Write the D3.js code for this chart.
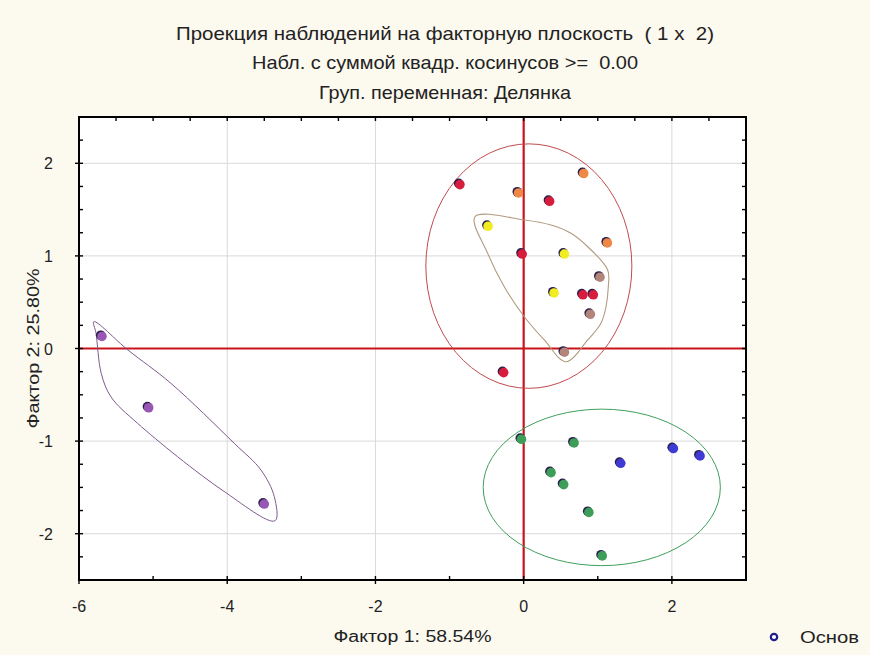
<!DOCTYPE html>
<html><head><meta charset="utf-8">
<script src="https://cdn.jsdelivr.net/npm/d3@7/dist/d3.min.js"></script>
<style>body{margin:0;background:#fcf9ef;} svg{display:block;} text{white-space:pre;}</style>
</head><body>
<svg id="c" width="870" height="655"></svg>
<script>
// ---- data ----
const titleLines = ["Проекция наблюдений на факторную плоскость  ( 1 x  2)",
  "Набл. с суммой квадр. косинусов >=  0.00",
  "Груп. переменная: Делянка"];
const xLabel = "Фактор 1: 58.54%";
const yLabel = "Фактор 2: 25.80%";
const legendLabel = "Основ";
const xTickLabels = [-6, -4, -2, 0, 2];
const yTickLabels = [-2, -1, 0, 1, 2];

const groupNames = ["red", "orange", "yellow", "brown", "green", "blue", "purple"];
const groupColors = ["#d81c3e", "#ee8845", "#f2ec22", "#b3857a", "#3c9e58", "#3e3ad4", "#9a56b4"];
const redX = [-0.86, 0.35, -0.02, 0.80, 0.94, -0.27];
const redY = [1.77, 1.59, 1.02, 0.58, 0.58, -0.26];
const orangeX = [-0.07, 0.81, 1.13];
const orangeY = [1.68, 1.89, 1.14];
const yellowX = [-0.48, 0.55, 0.41];
const yellowY = [1.32, 1.02, 0.60];
const brownX = [1.03, 0.90, 0.55];
const brownY = [0.77, 0.37, -0.04];
const greenX = [-0.03, 0.68, 0.37, 0.54, 0.88, 1.06];
const greenY = [-0.98, -1.02, -1.34, -1.47, -1.77, -2.24];
const blueX = [2.02, 2.38, 1.31];
const blueY = [-1.08, -1.16, -1.24];
const purpleX = [-5.69, -5.06, -3.50];
const purpleY = [0.13, -0.64, -1.68];

// enclosing outlines (data units)
const ellipseRed = {cx: 0.07, cy: 0.89, rx: 1.39, ry: 1.32};
const ellipseGreen = {cx: 1.054, cy: -1.50, rx: 1.60, ry: 0.845};
const hullBrownX = [-0.657, 0.008, 0.368, 0.638, 0.864, 1.134, 1.142, 1.111, 1.043, 0.864, 0.571, 0.278, 0.008, -0.262, -0.486];
const hullBrownY = [1.423, 1.388, 1.334, 1.244, 1.099, 0.848, 0.667, 0.451, 0.272, 0.092, -0.143, 0.092, 0.343, 0.667, 1.028];
const hullPurpleX = [-5.80, -5.34, -4.76, -3.905, -3.545, -3.365, -3.355, -4.07, -5.21, -5.57, -5.70, -5.77];
const hullPurpleY = [0.29, -0.016, -0.376, -1.024, -1.312, -1.60, -1.86, -1.528, -0.808, -0.52, -0.268, 0.164];

// ---- drawing ----
const svg = d3.select("#c");
const L = 79, R = 746, T = 117, B = 580;
const x = d3.scaleLinear().domain([-6, 3]).range([L, R]);
const y = d3.scaleLinear().domain([-2.5, 2.5]).range([B, T]);
const font = "'Liberation Sans', Arial, sans-serif";

svg.append("rect").attr("width", 870).attr("height", 655).attr("fill", "#fcf9ef");
svg.append("rect").attr("x", L).attr("y", T).attr("width", R - L).attr("height", B - T).attr("fill", "#fff");

// titles
const titleW = [538, 386, 252];
titleLines.forEach((t, i) => {
  svg.append("text").attr("x", 445).attr("y", 39.5 + i * 29.5).attr("text-anchor", "middle")
    .attr("font-family", font).attr("font-size", 18.5).attr("fill", "#222")
    .attr("textLength", titleW[i]).attr("lengthAdjust", "spacingAndGlyphs").text(t);
});

// grid
const g = svg.append("g");
g.selectAll(".gx").data([-4, -2, 2]).join("line")
  .attr("x1", d => x(d)).attr("x2", d => x(d)).attr("y1", T).attr("y2", B)
  .attr("stroke", "#d9d9d9").attr("stroke-width", 1);
g.selectAll(".gy").data([-2, -1, 1, 2]).join("line")
  .attr("y1", d => y(d)).attr("y2", d => y(d)).attr("x1", L).attr("x2", R)
  .attr("stroke", "#d9d9d9").attr("stroke-width", 1);

// red zero axes
g.append("line").attr("x1", x(0)).attr("x2", x(0)).attr("y1", T).attr("y2", B).attr("stroke", "#c8141a").attr("stroke-width", 2.2);
g.append("line").attr("x1", L).attr("x2", R).attr("y1", y(0)).attr("y2", y(0)).attr("stroke", "#c8141a").attr("stroke-width", 2.2);

// outlines
function ell(e, col) {
  g.append("ellipse").attr("cx", x(e.cx)).attr("cy", y(e.cy))
    .attr("rx", x(e.cx + e.rx) - x(e.cx)).attr("ry", y(e.cy) - y(e.cy + e.ry))
    .attr("fill", "none").attr("stroke", col).attr("stroke-width", 1);
}
ell(ellipseRed, "#c24a4e");
ell(ellipseGreen, "#3fa05c");
const hullLine = d3.line().curve(d3.curveCatmullRomClosed.alpha(0.5)).x(d => x(d[0])).y(d => y(d[1]));
g.append("path").attr("d", hullLine(d3.zip(hullBrownX, hullBrownY)))
  .attr("fill", "none").attr("stroke", "#b29a80").attr("stroke-width", 1.1);
g.append("path").attr("d", hullLine(d3.zip(hullPurpleX, hullPurpleY)))
  .attr("fill", "none").attr("stroke", "#7e5a8e").attr("stroke-width", 1);

// points
const groups = [[redX, redY], [orangeX, orangeY], [yellowX, yellowY], [brownX, brownY],
                [greenX, greenY], [blueX, blueY], [purpleX, purpleY]];
groups.forEach(([xs, ys], gi) => {
  const pts = d3.zip(xs, ys);
  g.selectAll(null).data(pts).join("circle")
    .attr("cx", d => x(d[0]) - 1.2).attr("cy", d => y(d[1]) - 1.2).attr("r", 4.8)
    .attr("fill", "#2a1f4a");
  g.selectAll(null).data(pts).join("circle")
    .attr("cx", d => x(d[0])).attr("cy", d => y(d[1])).attr("r", 4.8)
    .attr("fill", groupColors[gi]);
});

// frame
svg.append("rect").attr("x", L).attr("y", T).attr("width", R - L).attr("height", B - T)
  .attr("fill", "none").attr("stroke", "#000").attr("stroke-width", 2);

// ticks
const tk = svg.append("g").attr("stroke", "#000").attr("stroke-width", 1.4);
d3.range(-6, 3.01, 1).forEach(v => {
  tk.append("line").attr("x1", x(v)).attr("x2", x(v)).attr("y1", B).attr("y2", B - 4);
  if (v % 2 === 0) tk.append("line").attr("x1", x(v)).attr("x2", x(v)).attr("y1", B).attr("y2", B + 4);
});
d3.range(-2.5, 2.51, 0.25).forEach(v => {
  tk.append("line").attr("x1", L).attr("x2", L + 4).attr("y1", y(v)).attr("y2", y(v));
  tk.append("line").attr("x1", R).attr("x2", R - 4).attr("y1", y(v)).attr("y2", y(v));
  if (Math.abs(v - Math.round(v)) < 1e-9) tk.append("line").attr("x1", L).attr("x2", L - 4).attr("y1", y(v)).attr("y2", y(v));
});
d3.range(-6, 3.01, 0.5).forEach(v => {
  tk.append("line").attr("x1", x(v)).attr("x2", x(v)).attr("y1", T).attr("y2", T + 4);
});

// tick labels
svg.selectAll(".xl").data(xTickLabels).join("text")
  .attr("x", d => x(d)).attr("y", 612).attr("text-anchor", "middle")
  .attr("font-family", font).attr("font-size", 16).attr("fill", "#222").text(d => d);
svg.selectAll(".yl").data(yTickLabels).join("text")
  .attr("x", 53).attr("y", d => y(d) + 6).attr("text-anchor", "end")
  .attr("font-family", font).attr("font-size", 16).attr("fill", "#222").text(d => d);

// axis titles
svg.append("text").attr("x", (L + R) / 2).attr("y", 642).attr("text-anchor", "middle")
  .attr("font-family", font).attr("font-size", 16).attr("fill", "#222")
  .attr("textLength", 158).attr("lengthAdjust", "spacingAndGlyphs").text(xLabel);
svg.append("text").attr("transform", `translate(39,${(T + B) / 2}) rotate(-90)`).attr("text-anchor", "middle")
  .attr("font-family", font).attr("font-size", 16).attr("fill", "#222")
  .attr("textLength", 160).attr("lengthAdjust", "spacingAndGlyphs").text(yLabel);

// legend
svg.append("circle").attr("cx", 774).attr("cy", 637).attr("r", 3.2).attr("fill", "#fff")
  .attr("stroke", "#1e1e8c").attr("stroke-width", 2.2);
svg.append("text").attr("x", 800).attr("y", 643).attr("font-family", font).attr("font-size", 16)
  .attr("fill", "#222").attr("textLength", 59).attr("lengthAdjust", "spacingAndGlyphs").text(legendLabel);
</script>
</body></html>
